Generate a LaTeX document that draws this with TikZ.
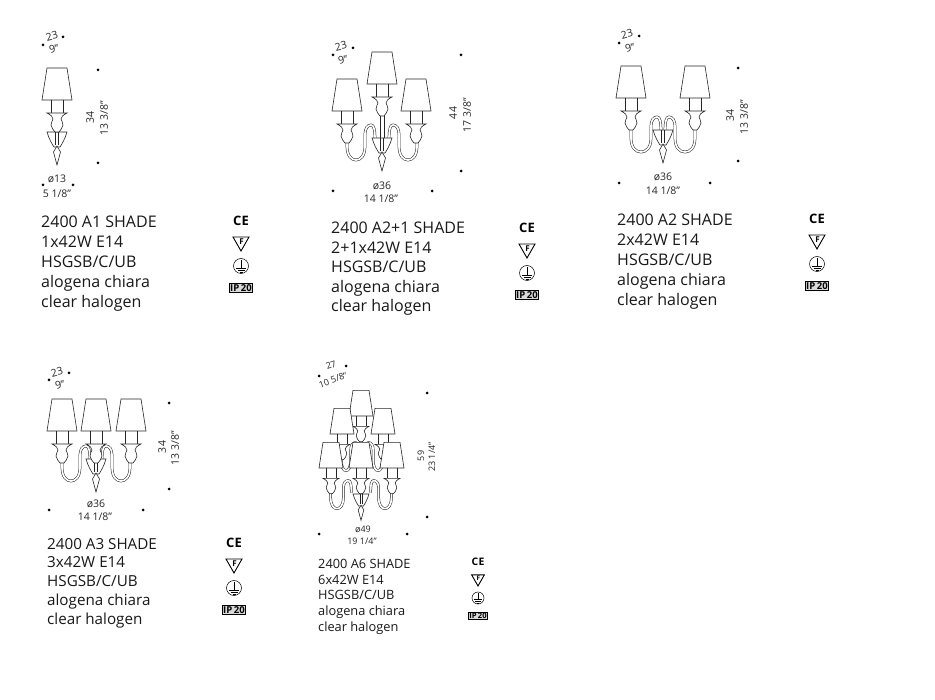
\documentclass[tikz,border=0pt]{standalone}
\usepackage{fontspec}
\setmainfont{Open Sans}
\tikzstyle{lampline} = [draw=black!85, line width=0.6pt]
\tikzstyle{tube} = [draw=black!85, line width=0.5pt, double=white, double distance=1.7pt]
\tikzstyle{dim} = [inner sep=0pt, text=black!85, font=\fontsize{10.5}{11}\selectfont]
\tikzstyle{smalldim} = [inner sep=0pt, text=black!85, font=\fontsize{9}{10}\selectfont]
\tikzstyle{caption} = [inner sep=0pt, anchor=north west, align=left, text=black!90]
\tikzset{
	% one shade with its holder, origin at the middle of the shade's lower edge
	pics/lampshade/.style={code={
		\draw[lampline] (-6,0)--(-6,13) (6,0)--(6,13);
		\draw[lampline,fill=white] (-10,13)--(10,13) .. controls (6,15) and (4,17) .. (4,19) .. controls (4,20) and (6,22) .. (6,25) .. controls (6,28) and (3,30) .. (2,32) -- (-2,32) .. controls (-3,30) and (-6,28) .. (-6,25) .. controls (-6,22) and (-4,20) .. (-4,19) .. controls (-4,17) and (-6,15) .. (-10,13) -- cycle;
		\draw[lampline,fill=white] (-10,-32)--(10,-32)--(15,0)--(-15,0)--cycle;
	}},
	% bent glass arm: span/loop, origin at the middle of the bowl's rim
	pics/sidearm/.style args={#1/#2}{code={
		\pgfmathsetmacro\armm{(#1+#2)/2}
		\pgfmathsetmacro\armq{(#1-#2)/4}
		\draw[tube] (-#1,-2) -- (-#1,8) .. controls (-#1,18) and (-#1+\armq,22) .. (-\armm,22) .. controls (-#2-\armq,22) and (-#2,18) .. (-#2,8) -- (-#2,-4) .. controls (-#2,-10) and (-#2+3,-13) .. (-#2+6,-13) .. controls (-#2+9,-13) and (-#2+10,-8) .. (-#2+10,2);
	}},
	pics/bowl/.style={code={
		\draw[lampline,fill=white] (-10,0)--(10,0) .. controls (8,7) and (5,12) .. (3,15) -- (-3,15) .. controls (-5,12) and (-8,7) .. (-10,0) -- cycle;
		\draw[lampline] (-1.5,0)--(-1.5,13) (1.5,0)--(1.5,13);
		\draw[lampline,fill=white] (0,14)--(3.5,20)--(0,33)--(-3.5,20)--cycle;
	}},
	% the four marks below each other
	pics/marks/.style={code={
		\node[inner sep=0pt,transform shape,font=\fontsize{13}{13}\selectfont\bfseries] (-ce) at (0,0) {C\kern0.4pt E};
		\draw[line width=0.9pt] (-8,16)--(8,16)--(0,30)--cycle;
		\node[inner sep=0pt,transform shape,font=\fontsize{8}{8}\selectfont\bfseries] (-fl) at (0.5,20.5) {F};
		\draw[line width=0.5pt] (0,45) circle (7.5);
		\draw[line width=0.5pt] (0,39)--(0,47) (-5,47)--(5,47) (-3.5,49)--(3.5,49) (-1.5,51)--(1.5,51);
		\node[draw,line width=0.6pt,fill=black!15,inner xsep=1pt,inner ysep=1.2pt,transform shape,font=\fontsize{9.5}{9.5}\selectfont\bfseries] (-ip) at (0,67) {IP\,20};
	}}
}
\begin{document}
\begin{tikzpicture}[x=1pt,y=-1pt]
\useasboundingbox[fill=white] (0,0) rectangle (935,700);

% 2400 A1
\pic at (57,132) {bowl};
\pic at (57,100) {lampshade};
\foreach \px/\py in {43/45,63/37,98/70,98/163,43/185,73/185} \fill (\px,\py) circle (1.5);
\node[dim,rotate=15] (aonew) at (52,36) {23};
\node[dim,rotate=15] (aonewin) at (54,49) {9"};
\node[dim,rotate=90] (aoneh) at (90,118) {34};
\node[dim,rotate=90] (aonehin) at (104,118) {13 3/8"};
\node[dim] (aoned) at (57,179) {ø13};
\node[dim] (aonedin) at (57,194) {5 1/8"};
\node[caption,font=\fontsize{16}{20}\selectfont] (aonetext) at (41,216) {2400 A1 SHADE\\1x42W E14\\HSGSB/C/UB\\alogena chiara\\clear halogen};
\pic (aonemarks) at (241,221) {marks};

% 2400 A2+1
\pic at (382,138) {sidearm=35/17};
\pic[xscale=-1] at (382,138) {sidearm=35/17};
\pic at (382,138) {bowl};
\draw[lampline] (380,116)--(380,138) (384,116)--(384,138);
\pic at (382,84) {lampshade};
\pic at (347,111) {lampshade};
\pic at (416,111) {lampshade};
\foreach \px/\py in {333/55,353/48,461/55,461/171,333/191,432/191} \fill (\px,\py) circle (1.5);
\node[dim,rotate=15] (atwopw) at (341,46) {23};
\node[dim,rotate=15] (atwopwin) at (343,60) {9"};
\node[dim,rotate=90] (atwoph) at (453,113) {44};
\node[dim,rotate=90] (atwophin) at (467,115) {17 3/8"};
\node[dim] (atwopd) at (382,186) {ø36};
\node[dim] (atwopdin) at (381,199) {14 1/8"};
\node[caption,font=\fontsize{16}{19.5}\selectfont] (atwoptext) at (331,222) {2400 A2+1 SHADE\\2+1x42W E14\\HSGSB/C/UB\\alogena chiara\\clear halogen};
\pic (atwopmarks) at (527,228) {marks};

% 2400 A2
\pic at (663,130) {sidearm=32/12};
\pic[xscale=-1] at (663,130) {sidearm=32/12};
\pic at (663,130) {bowl};
\pic at (631,98) {lampshade};
\pic at (695,98) {lampshade};
\foreach \px/\py in {619/43,639/36,738/68,738/161,619/183,710/183} \fill (\px,\py) circle (1.5);
\node[dim,rotate=15] (atwow) at (627,34) {23};
\node[dim,rotate=15] (atwowin) at (630,48) {9"};
\node[dim,rotate=90] (atwoh) at (730,116) {34};
\node[dim,rotate=90] (atwohin) at (744,117) {13 3/8"};
\node[dim] (atwod) at (663,177) {ø36};
\node[dim] (atwodin) at (663,191) {14 1/8"};
\node[caption,font=\fontsize{16}{20}\selectfont] (atwotext) at (617,214) {2400 A2 SHADE\\2x42W E14\\HSGSB/C/UB\\alogena chiara\\clear halogen};
\pic (atwomarks) at (817,219) {marks};

% 2400 A3
\pic at (96,459) {sidearm=34/16};
\pic[xscale=-1] at (96,459) {sidearm=34/16};
\pic at (96,459) {bowl};
\pic at (96,431) {lampshade};
\pic at (62,431) {lampshade};
\pic at (131,431) {lampshade};
\foreach \px/\py in {49/380,69/373,169/403,169/489,49/510,143/510} \fill (\px,\py) circle (1.5);
\node[dim,rotate=15] (athreew) at (57,372) {23};
\node[dim,rotate=15] (athreewin) at (60,385) {9"};
\node[dim,rotate=90] (athreeh) at (162,447) {34};
\node[dim,rotate=90] (athreehin) at (175,448) {13 3/8"};
\node[dim] (athreed) at (96,504) {ø36};
\node[dim] (athreedin) at (95,517) {14 1/8"};
\node[caption,font=\fontsize{15.2}{18.7}\selectfont] (athreetext) at (47,538) {2400 A3 SHADE\\3x42W E14\\HSGSB/C/UB\\alogena chiara\\clear halogen};
\pic (athreemarks) at (234,543) {marks};

% 2400 A6
\begin{scope}[every pic/.append style={scale=0.8}]
\pic at (362,453) {sidearm=26/14};
\pic[xscale=-1] at (362,453) {sidearm=26/14};
\pic at (361,416) {lampshade};
\pic at (342,434) {lampshade};
\pic at (383,434) {lampshade};
\pic at (361,491) {sidearm=38/22};
\pic[xscale=-1] at (361,491) {sidearm=38/22};
\pic at (361,494) {bowl};
\pic at (331,468) {lampshade};
\pic at (392,468) {lampshade};
\pic at (361,468) {lampshade};
\pic (asixmarks) at (478,562) {marks};
\end{scope}
\foreach \px/\py in {319/376,346/366,427/393,427/517,319/534,407/534} \fill (\px,\py) circle (1.5);
\node[smalldim,rotate=20] (asixw) at (331,365) {27};
\node[smalldim,rotate=20] (asixwin) at (333,380) {10 5/8"};
\node[smalldim,rotate=90] (asixh) at (421,456) {59};
\node[smalldim,rotate=90] (asixhin) at (432,457) {23 1/4"};
\node[smalldim] (asixd) at (363,529) {ø49};
\node[smalldim] (asixdin) at (362,541) {19 1/4"};
\node[caption,font=\fontsize{12.8}{15.7}\selectfont] (asixtext) at (318,559) {2400 A6 SHADE\\6x42W E14\\HSGSB/C/UB\\alogena chiara\\clear halogen};

\end{tikzpicture}
\end{document}
